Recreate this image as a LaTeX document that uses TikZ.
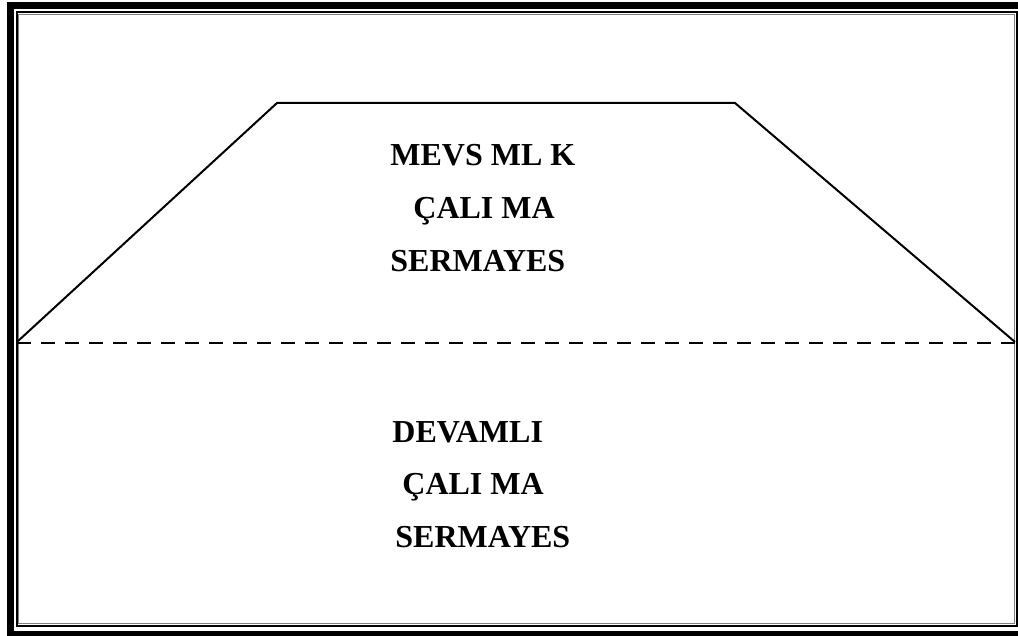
\documentclass[tikz,border=0pt]{standalone}
\usepackage{fontspec}
\setmainfont{Liberation Serif}
\begin{document}
\begin{tikzpicture}[x=0.5pt, y=-0.5pt,
    label/.style={anchor=base west, inner sep=0pt, font=\fontsize{16}{19}\selectfont\bfseries},
    edge/.style={line width=1pt, line join=miter}]
                \useasboundingbox (0,0) rectangle (1018,636);
                \clip (0,0) rectangle (1018,636);
                % page frame: thick outer line, thin inner line with grey shadow
                \draw[line width=3.5pt] (10.5,5.5) rectangle (1022,634.5);
                \draw[line width=1pt] (16.5,12) rectangle (1016.5,626);
                \draw[gray, line width=0.5pt] (18.8,14.2) rectangle (1014.8,623.8);
                % trapezoid and the dashed base
                \coordinate (bl) at (17,342);
                \coordinate (tl) at (277,103);
                \coordinate (tr) at (735,103);
                \coordinate (br) at (1015,342);
                \draw[edge] (bl) -- (tl) -- (tr) -- (br);
                \draw[line width=0.6pt, dash pattern=on 7 off 5] (17,343) -- (1015,343);
                % upper part
                \node[label] (m1) at (390,166) {MEVS ML K};
                \node[label] (m2) at (413,219) {ÇALI MA};
                \node[label] (m3) at (390,272) {SERMAYES};
                % lower part
                \node[label] (d1) at (392,443) {DEVAMLI};
                \node[label] (d2) at (402,494) {ÇALI MA};
                \node[label] (d3) at (395,547) {SERMAYES};
            \end{tikzpicture}
\end{document}
